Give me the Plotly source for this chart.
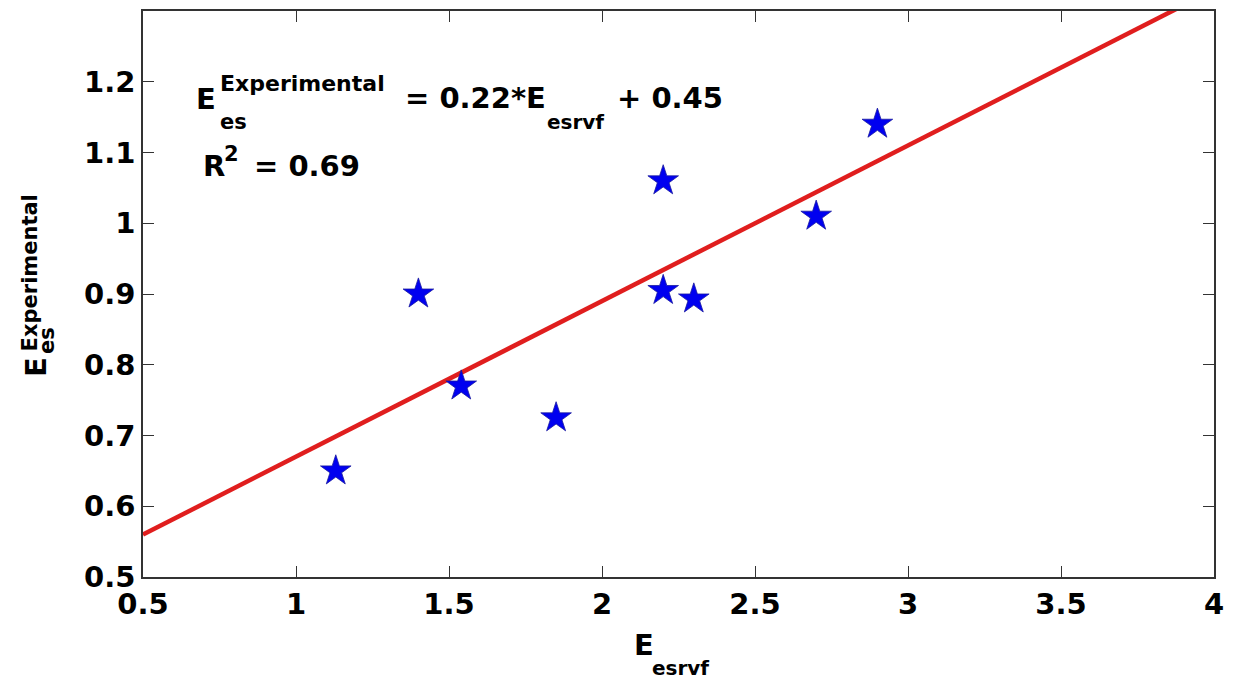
import plotly.graph_objects as go

# ---- data ----
x_esrvf = [1.13, 1.40, 1.54, 1.85, 2.20, 2.20, 2.30, 2.70, 2.90]
y_experimental = [0.65, 0.90, 0.77, 0.725, 1.06, 0.905, 0.893, 1.01, 1.14]
fit_slope = 0.22
fit_intercept = 0.45
fit_x = [0.5, 4.0]
fit_y = [fit_slope * v + fit_intercept for v in fit_x]

x_tickvals = [0.5, 1, 1.5, 2, 2.5, 3, 3.5, 4]
x_ticktext = ["0.5", "1", "1.5", "2", "2.5", "3", "3.5", "4"]
y_tickvals = [0.5, 0.6, 0.7, 0.8, 0.9, 1.0, 1.1, 1.2]
y_ticktext = ["0.5", "0.6", "0.7", "0.8", "0.9", "1", "1.1", "1.2"]

# ---- layout geometry ----
W, H = 1233, 684
L, R, T, B = 143, 1217, 9, 577
FONT = "DejaVu Sans"


def px(x):
    return (x - L) / (R - L)


def py(y):
    return (B - y) / (B - T)


fig = go.Figure()
fig.add_trace(go.Scatter(
    x=fit_x, y=fit_y, mode="lines",
    line=dict(color="#e01e1e", width=4.5), showlegend=False, hoverinfo="skip"))
fig.add_trace(go.Scatter(
    x=x_esrvf, y=y_experimental, mode="markers",
    marker=dict(symbol="star", size=23, color="#0000f0",
                line=dict(color="#1a1aa0", width=0.8)),
    showlegend=False))

axis_common = dict(
    showline=True, linecolor="#333333", linewidth=1.5, mirror="ticks",
    ticks="inside", ticklen=11, tickwidth=1.3, tickcolor="#333333",
    showgrid=False, zeroline=False,
    tickfont=dict(family=FONT, size=29, color="black", weight="bold"),
)
fig.update_xaxes(range=[0.5, 4.0], tickvals=x_tickvals, ticktext=x_ticktext, **axis_common)
fig.update_yaxes(range=[0.5, 1.3], tickvals=y_tickvals, ticktext=y_ticktext, **axis_common)


def ann(text, x, y, size, xanchor="left", yanchor="middle", angle=0):
    fig.add_annotation(
        text=text, x=px(x), y=py(y), xref="paper", yref="paper",
        xanchor=xanchor, yanchor=yanchor, textangle=angle, showarrow=False,
        font=dict(family=FONT, size=size, color="black", weight="bold"),
        borderpad=0)


BIG, SMALL = 29, 21
# equation
ann("E", 195, 97, BIG)
ann("Experimental", 219, 82, 22)
ann("es", 219, 120, SMALL)
ann("= 0.22*E", 405, 96, BIG)
ann("esrvf", 547, 120, 20)
ann("+ 0.45", 617, 96, BIG)
# R^2
ann("R", 202, 165, BIG)
ann("2", 223, 153, SMALL)
ann("= 0.69", 253, 165, BIG)
# y label (rotated)
ann("E", 35, 366, BIG, xanchor="center", yanchor="middle", angle=-90)
ann("Experimental", 30, 272, SMALL, xanchor="center", yanchor="middle", angle=-90)
ann("es", 47, 340, SMALL, xanchor="center", yanchor="middle", angle=-90)
# x label
ann("E", 634, 645, BIG)
ann("esrvf", 652, 668, 20)

fig.update_layout(
    width=W, height=H,
    margin=dict(l=L, r=W - R, t=T, b=H - B),
    paper_bgcolor="white", plot_bgcolor="white",
)

fig.write_html("out.html")
